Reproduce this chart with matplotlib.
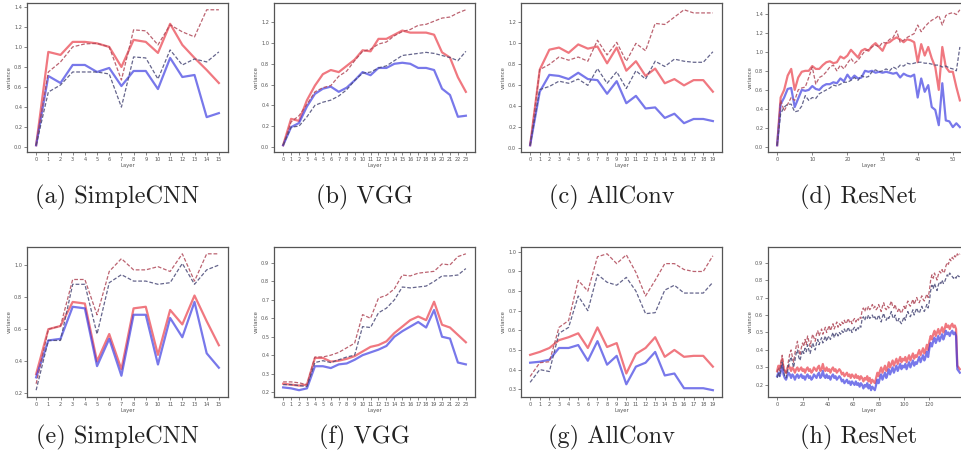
import matplotlib
matplotlib.use("Agg")
import matplotlib.pyplot as plt

# ---- data (variance per layer) ----

# (a) SimpleCNN, top row
a_red = [0.02, 0.95, 0.92, 1.05, 1.05, 1.035, 1.0, 0.80, 1.07, 1.05, 0.94, 1.23, 1.02, 0.89, 0.77, 0.64]
a_red_dash = [0.02, 0.75, 0.85, 1.0, 1.03, 1.035, 1.0, 0.67, 1.17, 1.16, 1.02, 1.22, 1.15, 1.10, 1.37, 1.37]
a_blue = [0.02, 0.71, 0.64, 0.82, 0.82, 0.75, 0.79, 0.61, 0.76, 0.76, 0.58, 0.89, 0.70, 0.72, 0.30, 0.34]
a_blue_dash = [0.02, 0.55, 0.62, 0.75, 0.75, 0.75, 0.73, 0.40, 0.90, 0.89, 0.68, 0.97, 0.82, 0.88, 0.85, 0.95]

# (b) VGG, top row
b_red = [0.016, 0.27, 0.25, 0.45, 0.59, 0.70, 0.74, 0.72, 0.78, 0.84, 0.93, 0.92,
         1.04, 1.04, 1.08, 1.12, 1.10, 1.10, 1.10, 1.08, 0.91, 0.86, 0.67, 0.53]
b_red_dash = [0.016, 0.24, 0.30, 0.41, 0.53, 0.57, 0.59, 0.68, 0.73, 0.83, 0.92, 0.94,
              0.99, 1.01, 1.07, 1.11, 1.13, 1.17, 1.18, 1.21, 1.24, 1.25, 1.29, 1.32]
b_blue = [0.016, 0.19, 0.23, 0.39, 0.51, 0.56, 0.58, 0.53, 0.57, 0.64, 0.72, 0.69,
          0.76, 0.76, 0.80, 0.81, 0.80, 0.76, 0.76, 0.74, 0.56, 0.50, 0.29, 0.30]
b_blue_dash = [0.016, 0.19, 0.20, 0.29, 0.40, 0.43, 0.45, 0.49, 0.55, 0.64, 0.71, 0.72,
               0.76, 0.78, 0.83, 0.88, 0.89, 0.90, 0.91, 0.90, 0.88, 0.86, 0.83, 0.92]

# (c) AllConv, top row
c_red = [0.03, 0.75, 0.94, 0.96, 0.91, 0.99, 0.95, 0.97, 0.81, 0.96,
         0.74, 0.83, 0.69, 0.76, 0.62, 0.66, 0.60, 0.65, 0.65, 0.54]
c_red_dash = [0.03, 0.75, 0.80, 0.87, 0.84, 0.87, 0.83, 1.03, 0.89, 1.01,
              0.83, 1.00, 0.93, 1.19, 1.18, 1.25, 1.32, 1.29, 1.29, 1.29]
c_blue = [0.03, 0.54, 0.70, 0.69, 0.66, 0.72, 0.66, 0.65, 0.52, 0.64,
          0.43, 0.50, 0.38, 0.39, 0.29, 0.33, 0.24, 0.28, 0.28, 0.26]
c_blue_dash = [0.03, 0.56, 0.59, 0.64, 0.62, 0.66, 0.60, 0.76, 0.62, 0.73,
               0.57, 0.74, 0.66, 0.83, 0.78, 0.85, 0.83, 0.82, 0.82, 0.92]

# (d) ResNet, top row
d_red = [0.02, 0.52, 0.60, 0.75, 0.82, 0.60, 0.73, 0.79, 0.80, 0.80,
         0.85, 0.82, 0.82, 0.86, 0.89, 0.90, 0.88, 0.89, 0.95, 0.93,
         0.96, 1.02, 0.98, 0.94, 1.01, 1.03, 1.01, 1.06, 1.09, 1.05,
         1.01, 1.09, 1.10, 1.13, 1.15, 1.13, 1.10, 1.13, 1.12, 1.10,
         0.89, 1.08, 0.96, 1.05, 0.93, 0.84, 0.60, 1.05, 0.84, 0.79,
         0.79, 0.63, 0.49]
d_red_dash = [0.02, 0.49, 0.38, 0.45, 0.52, 0.49, 0.60, 0.62, 0.63, 0.73,
              0.84, 0.66, 0.73, 0.75, 0.79, 0.84, 0.86, 0.80, 0.86, 0.82,
              0.88, 0.93, 0.88, 0.91, 0.96, 1.01, 1.02, 1.05, 1.07, 1.05,
              1.10, 1.09, 1.13, 1.15, 1.22, 1.10, 1.12, 1.15, 1.17, 1.19,
              1.28, 1.21, 1.26, 1.30, 1.33, 1.35, 1.38, 1.28, 1.38, 1.40,
              1.41, 1.39, 1.44]
d_blue = [0.02, 0.45, 0.52, 0.61, 0.62, 0.42, 0.51, 0.60, 0.59, 0.60,
          0.64, 0.61, 0.60, 0.64, 0.66, 0.66, 0.68, 0.67, 0.72, 0.69,
          0.76, 0.71, 0.75, 0.72, 0.73, 0.80, 0.79, 0.80, 0.78, 0.79,
          0.78, 0.79, 0.78, 0.77, 0.78, 0.73, 0.77, 0.75, 0.74, 0.76,
          0.52, 0.72, 0.58, 0.65, 0.42, 0.39, 0.23, 0.67, 0.28, 0.27,
          0.21, 0.25, 0.21]
d_blue_dash = [0.02, 0.35, 0.42, 0.45, 0.45, 0.37, 0.38, 0.43, 0.54, 0.49,
               0.52, 0.51, 0.56, 0.58, 0.60, 0.62, 0.65, 0.64, 0.66, 0.68,
               0.68, 0.70, 0.73, 0.70, 0.75, 0.73, 0.74, 0.79, 0.81, 0.79,
               0.80, 0.82, 0.80, 0.84, 0.82, 0.86, 0.85, 0.88, 0.87, 0.88,
               0.89, 0.89, 0.88, 0.88, 0.87, 0.86, 0.86, 0.84, 0.85, 0.83,
               0.82, 0.80, 1.05]

# (e) SimpleCNN, bottom row
e_red = [0.32, 0.60, 0.62, 0.77, 0.76, 0.40, 0.57, 0.35, 0.73, 0.74, 0.44, 0.72, 0.63, 0.81, 0.65, 0.50]
e_red_dash = [0.26, 0.60, 0.62, 0.91, 0.91, 0.69, 0.96, 1.04, 0.97, 0.97, 0.99, 0.96, 1.07, 0.90, 1.07, 1.07]
e_blue = [0.30, 0.53, 0.54, 0.74, 0.73, 0.37, 0.54, 0.31, 0.69, 0.69, 0.38, 0.67, 0.55, 0.77, 0.45, 0.36]
e_blue_dash = [0.22, 0.53, 0.53, 0.88, 0.88, 0.57, 0.89, 0.94, 0.90, 0.90, 0.88, 0.89, 1.01, 0.88, 0.97, 1.00]

# (f) VGG, bottom row
f_red = [0.245, 0.24, 0.235, 0.24, 0.385, 0.385, 0.365, 0.37, 0.38, 0.395, 0.42, 0.445,
         0.455, 0.475, 0.52, 0.555, 0.59, 0.61, 0.59, 0.69, 0.565, 0.55, 0.51, 0.47]
f_red_dash = [0.255, 0.255, 0.25, 0.24, 0.39, 0.39, 0.40, 0.415, 0.44, 0.465, 0.62, 0.60,
              0.71, 0.725, 0.76, 0.835, 0.83, 0.845, 0.85, 0.855, 0.895, 0.89, 0.935, 0.95]
f_blue = [0.225, 0.22, 0.21, 0.22, 0.34, 0.34, 0.33, 0.35, 0.355, 0.375, 0.40, 0.415,
          0.43, 0.45, 0.50, 0.53, 0.555, 0.58, 0.55, 0.645, 0.50, 0.49, 0.36, 0.35]
f_blue_dash = [0.24, 0.24, 0.235, 0.23, 0.36, 0.37, 0.36, 0.375, 0.39, 0.40, 0.555, 0.55,
               0.63, 0.655, 0.70, 0.77, 0.765, 0.77, 0.775, 0.80, 0.83, 0.83, 0.835, 0.87]

# (g) AllConv, bottom row
g_red = [0.475, 0.49, 0.51, 0.55, 0.565, 0.585, 0.51, 0.615, 0.515, 0.535,
         0.38, 0.48, 0.51, 0.565, 0.465, 0.50, 0.465, 0.47, 0.47, 0.415]
g_red_dash = [0.365, 0.435, 0.44, 0.615, 0.65, 0.855, 0.80, 0.975, 0.99, 0.94,
              0.985, 0.895, 0.775, 0.855, 0.94, 0.94, 0.91, 0.90, 0.90, 0.98]
g_blue = [0.435, 0.44, 0.45, 0.51, 0.51, 0.525, 0.445, 0.545, 0.425, 0.47,
          0.325, 0.415, 0.435, 0.49, 0.37, 0.38, 0.305, 0.305, 0.305, 0.295]
g_blue_dash = [0.335, 0.40, 0.39, 0.585, 0.615, 0.775, 0.70, 0.885, 0.845, 0.83,
               0.87, 0.80, 0.685, 0.69, 0.805, 0.83, 0.79, 0.79, 0.79, 0.845]

# (h) ResNet, bottom row
h_red = [0.28, 0.31, 0.29, 0.32, 0.35, 0.30, 0.28, 0.27, 0.29, 0.31,
         0.30, 0.28, 0.30, 0.29, 0.27, 0.29, 0.30, 0.28, 0.29, 0.30,
         0.28, 0.29, 0.27, 0.29, 0.30, 0.28, 0.29, 0.27, 0.28, 0.30,
         0.29, 0.28, 0.30, 0.31, 0.28, 0.29, 0.32, 0.29, 0.28, 0.30,
         0.28, 0.29, 0.27, 0.29, 0.30, 0.28, 0.29, 0.27, 0.28, 0.29,
         0.28, 0.26, 0.27, 0.25, 0.26, 0.27, 0.25, 0.26, 0.24, 0.26,
         0.25, 0.24, 0.26, 0.24, 0.25, 0.23, 0.25, 0.24, 0.22, 0.24,
         0.23, 0.25, 0.22, 0.24, 0.21, 0.23, 0.22, 0.21, 0.24, 0.27,
         0.25, 0.28, 0.30, 0.27, 0.29, 0.31, 0.28, 0.30, 0.33, 0.30,
         0.32, 0.34, 0.31, 0.33, 0.35, 0.32, 0.34, 0.36, 0.33, 0.35,
         0.34, 0.36, 0.33, 0.35, 0.37, 0.34, 0.36, 0.38, 0.35, 0.37,
         0.36, 0.38, 0.40, 0.37, 0.39, 0.41, 0.38, 0.40, 0.43, 0.40,
         0.45, 0.48, 0.46, 0.49, 0.51, 0.48, 0.50, 0.52, 0.49, 0.51,
         0.53, 0.50, 0.52, 0.55, 0.53, 0.54, 0.52, 0.54, 0.55, 0.53,
         0.54, 0.52, 0.31, 0.30, 0.29]
h_red_dash = [0.27, 0.30, 0.28, 0.33, 0.37, 0.31, 0.28, 0.26, 0.30, 0.34,
              0.38, 0.40, 0.36, 0.33, 0.38, 0.42, 0.45, 0.40, 0.37, 0.41,
              0.44, 0.42, 0.46, 0.43, 0.48, 0.45, 0.42, 0.46, 0.49, 0.47,
              0.45, 0.49, 0.51, 0.48, 0.50, 0.52, 0.49, 0.51, 0.53, 0.50,
              0.52, 0.54, 0.51, 0.53, 0.55, 0.52, 0.54, 0.56, 0.53, 0.55,
              0.54, 0.56, 0.55, 0.57, 0.55, 0.56, 0.58, 0.56, 0.57, 0.55,
              0.57, 0.58, 0.56, 0.58, 0.57, 0.59, 0.58, 0.63, 0.64, 0.62,
              0.64, 0.63, 0.65, 0.63, 0.64, 0.66, 0.64, 0.65, 0.63, 0.64,
              0.66, 0.64, 0.62, 0.65, 0.67, 0.64, 0.63, 0.65, 0.64, 0.66,
              0.68, 0.65, 0.64, 0.66, 0.63, 0.62, 0.64, 0.62, 0.61, 0.63,
              0.65, 0.63, 0.66, 0.68, 0.66, 0.65, 0.67, 0.69, 0.66, 0.68,
              0.70, 0.68, 0.67, 0.69, 0.71, 0.69, 0.68, 0.70, 0.72, 0.70,
              0.74, 0.80, 0.83, 0.81, 0.84, 0.82, 0.80, 0.83, 0.85, 0.84,
              0.86, 0.84, 0.85, 0.88, 0.90, 0.89, 0.92, 0.91, 0.93, 0.92,
              0.94, 0.93, 0.95, 0.94, 0.95]
h_blue = [0.25, 0.27, 0.25, 0.28, 0.31, 0.26, 0.24, 0.23, 0.25, 0.27,
          0.26, 0.24, 0.26, 0.25, 0.23, 0.25, 0.26, 0.24, 0.25, 0.26,
          0.24, 0.25, 0.23, 0.25, 0.26, 0.24, 0.25, 0.23, 0.24, 0.26,
          0.25, 0.24, 0.26, 0.27, 0.24, 0.25, 0.28, 0.25, 0.24, 0.26,
          0.24, 0.25, 0.23, 0.25, 0.26, 0.24, 0.25, 0.23, 0.24, 0.25,
          0.24, 0.22, 0.23, 0.21, 0.22, 0.23, 0.21, 0.22, 0.20, 0.22,
          0.21, 0.20, 0.22, 0.20, 0.21, 0.19, 0.21, 0.20, 0.18, 0.20,
          0.19, 0.21, 0.18, 0.20, 0.17, 0.19, 0.18, 0.17, 0.20, 0.23,
          0.21, 0.24, 0.26, 0.23, 0.25, 0.27, 0.24, 0.26, 0.29, 0.26,
          0.28, 0.30, 0.27, 0.29, 0.31, 0.28, 0.30, 0.32, 0.29, 0.31,
          0.30, 0.32, 0.29, 0.31, 0.33, 0.30, 0.32, 0.34, 0.31, 0.33,
          0.32, 0.34, 0.36, 0.33, 0.35, 0.37, 0.34, 0.36, 0.39, 0.36,
          0.41, 0.44, 0.42, 0.45, 0.47, 0.44, 0.46, 0.48, 0.45, 0.47,
          0.49, 0.46, 0.48, 0.51, 0.49, 0.50, 0.48, 0.50, 0.51, 0.49,
          0.50, 0.48, 0.29, 0.28, 0.27]
h_blue_dash = [0.24, 0.27, 0.25, 0.29, 0.33, 0.28, 0.25, 0.24, 0.27, 0.31,
               0.34, 0.36, 0.33, 0.30, 0.34, 0.38, 0.40, 0.36, 0.34, 0.37,
               0.40, 0.38, 0.41, 0.39, 0.43, 0.40, 0.38, 0.41, 0.44, 0.42,
               0.40, 0.44, 0.46, 0.43, 0.45, 0.47, 0.44, 0.46, 0.48, 0.45,
               0.47, 0.48, 0.46, 0.48, 0.50, 0.47, 0.49, 0.50, 0.48, 0.50,
               0.49, 0.51, 0.50, 0.52, 0.50, 0.51, 0.53, 0.51, 0.52, 0.50,
               0.52, 0.53, 0.51, 0.53, 0.52, 0.54, 0.53, 0.58, 0.59, 0.57,
               0.59, 0.58, 0.60, 0.58, 0.59, 0.60, 0.58, 0.59, 0.57, 0.58,
               0.60, 0.58, 0.56, 0.59, 0.61, 0.58, 0.57, 0.59, 0.58, 0.60,
               0.62, 0.59, 0.58, 0.60, 0.57, 0.56, 0.58, 0.56, 0.55, 0.57,
               0.59, 0.57, 0.60, 0.62, 0.60, 0.59, 0.61, 0.63, 0.60, 0.62,
               0.64, 0.62, 0.61, 0.63, 0.65, 0.63, 0.62, 0.64, 0.66, 0.64,
               0.68, 0.74, 0.77, 0.75, 0.78, 0.76, 0.74, 0.77, 0.79, 0.78,
               0.80, 0.78, 0.79, 0.81, 0.83, 0.82, 0.84, 0.83, 0.82, 0.81,
               0.82, 0.81, 0.83, 0.82, 0.82]

captions = ["(a) SimpleCNN", "(b) VGG", "(c) AllConv", "(d) ResNet",
            "(e) SimpleCNN", "(f) VGG", "(g) AllConv", "(h) ResNet"]

panels = [
    (a_red, a_red_dash, a_blue, a_blue_dash),
    (b_red, b_red_dash, b_blue, b_blue_dash),
    (c_red, c_red_dash, c_blue, c_blue_dash),
    (d_red, d_red_dash, d_blue, d_blue_dash),
    (e_red, e_red_dash, e_blue, e_blue_dash),
    (f_red, f_red_dash, f_blue, f_blue_dash),
    (g_red, g_red_dash, g_blue, g_blue_dash),
    (h_red, h_red_dash, h_blue, h_blue_dash),
]

# x ticks per panel: every layer for the small nets, sparse for ResNet
tick_steps = [1, 1, 1, 10, 1, 1, 1, 20]
tick_max = [15, 23, 19, 50, 15, 23, 19, 120]

W, H = 961, 457
fig = plt.figure(figsize=(W / 100, H / 100), dpi=100)

col_left = [27, 274, 521, 768]
ax_w = 201
rows = [(3, 152), (247, 397)]   # (top, bottom) in pixels
cap_y = [197, 437]

for k, (red, red_dash, blue, blue_dash) in enumerate(panels):
    r, c = divmod(k, 4)
    top, bot = rows[r]
    ax = fig.add_axes([col_left[c] / W, 1 - bot / H, ax_w / W, (bot - top) / H])

    x = list(range(len(red)))
    ax.plot(x, red, color="#e8303c", lw=1.6, alpha=0.65)
    ax.plot(x, blue, color="#3030e0", lw=1.6, alpha=0.65)
    ax.plot(x, red_dash, color="#b04858", lw=0.9, ls=(0, (3, 1.5)), alpha=0.85)
    ax.plot(x, blue_dash, color="#4a4a78", lw=0.9, ls=(0, (3, 1.5)), alpha=0.85)

    ax.set_xticks(list(range(0, tick_max[k] + 1, tick_steps[k])))
    ax.tick_params(labelsize=3.6, length=2, width=0.5, pad=1.5, colors="#555555")
    ax.set_xlabel("Layer", fontsize=3.8, labelpad=1, color="#555555")
    ax.set_ylabel("variance", fontsize=3.8, labelpad=1.5, color="#555555")
    for s in ax.spines.values():
        s.set_color("#555555")
        s.set_linewidth(0.9)

    cx = (col_left[c] + ax_w / 2 - 10) / W
    fig.text(cx, 1 - cap_y[r] / H, captions[k], ha="center", va="center",
             fontsize=17.5, family="cmr10", color="#222222")

fig.savefig("out.png", dpi=100)
